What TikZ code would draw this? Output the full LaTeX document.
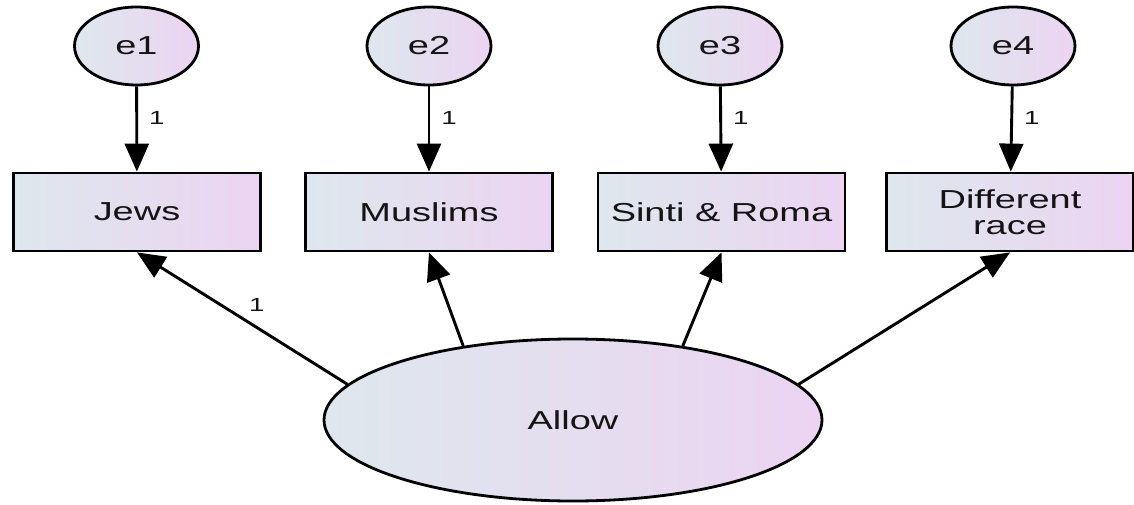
\documentclass[tikz,border=0pt]{standalone}
\usepackage{fontspec}
\setmainfont[FakeStretch=1.46]{Liberation Sans}
\usetikzlibrary{shapes.geometric,arrows.meta}
\definecolor{fillA}{RGB}{222,231,237}
\definecolor{fillB}{RGB}{236,212,242}
\definecolor{ink}{RGB}{20,20,20}
\begin{document}
\begin{tikzpicture}[x=1pt,y=-1pt,
  every node/.style={text=ink},
  shaded/.style={left color=fillA, right color=fillB, draw=black, line width=2.8pt},
  errvar/.style={shaded, ellipse, minimum width=124pt, minimum height=78pt, inner sep=0pt,
    font=\fontsize{26}{26}\selectfont},
  observed/.style={shaded, rectangle, minimum width=247pt, minimum height=78pt, inner sep=0pt,
    align=center, font=\fontsize{26}{26}\selectfont},
  latent/.style={shaded, ellipse, minimum width=498pt, minimum height=162pt, inner sep=0pt,
    font=\fontsize{26}{26}\selectfont},
  path/.style={line width=2.9pt, -{Triangle[length=28pt,width=24pt]}},
  weight/.style={font=\fontsize{19}{19}\selectfont, inner sep=0pt}
]
\useasboundingbox (0,0) rectangle (1134,505);

% error terms
\node[errvar] (e1) at (136.5,46) {e1};
\node[errvar] (e2) at (429,46) {e2};
\node[errvar] (e3) at (720,46) {e3};
\node[errvar] (e4) at (1013,46) {e4};

% observed indicators
\node[observed] (jews) at (137,212) {Jews};
\node[observed] (muslims) at (429,212) {Muslims};
\node[observed] (sinti) at (721.5,212) {Sinti \& Roma};
\node[observed] (race) at (1010,212) {Different\\race};

% latent factor
\node[latent] (allow) at (573,420) {Allow};

% error paths
\draw[path] (e1) -- node[weight, pos=0.37, anchor=west, xshift=11pt] {1} (jews);
\draw[path] (e2) -- node[weight, pos=0.37, anchor=west, xshift=11pt] {1} (muslims);
\draw[path] (e3) -- node[weight, pos=0.37, anchor=west, xshift=11pt] {1} (sinti);
\draw[path] (e4) -- node[weight, pos=0.37, anchor=west, xshift=11pt] {1} (race);

% factor loadings
\draw[path] (allow.171) -- node[weight, pos=0.43, yshift=23pt] {1} (jews.south);
\draw[path] (allow.146) -- (muslims.south);
\draw[path] (allow.34) -- (sinti.south);
\draw[path] (allow.9) -- (race.south);
\end{tikzpicture}
\end{document}
